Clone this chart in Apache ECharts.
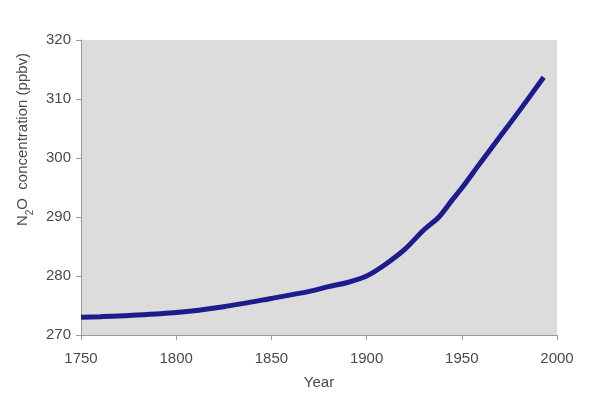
<!DOCTYPE html>
<html>
<head>
<meta charset="utf-8">
<script src="https://cdn.jsdelivr.net/npm/echarts@6/dist/echarts.min.js"></script>
<style>html,body{margin:0;padding:0;background:#fff;}#c{width:600px;height:396px;}</style>
</head>
<body>
<div id="c"></div>
<script>
var years = [1750, 1760, 1775, 1800, 1825, 1850, 1870, 1880, 1890, 1900, 1910, 1920, 1930, 1938, 1945, 1950, 1960, 1970, 1980, 1993];
var n2o   = [273.0, 273.1, 273.3, 273.8, 274.8, 276.2, 277.4, 278.2, 278.9, 280.0, 282.0, 284.5, 287.8, 290.0, 292.9, 294.9, 299.3, 303.6, 307.9, 313.7];
var xTicks = [1750, 1800, 1850, 1900, 1950, 2000];
var yTicks = [270, 280, 290, 300, 310, 320];

var chart = echarts.init(document.getElementById('c'));
var font = 'Liberation Sans, Arial, sans-serif';
var labelStyle = {color: '#4a4a4a', fontFamily: font, fontSize: 15};
chart.setOption({
  animation: false,
  backgroundColor: '#ffffff',
  grid: {left: 81, right: 43, top: 40, bottom: 61, show: true, backgroundColor: '#dcdcdc', borderWidth: 0},
  xAxis: {
    type: 'value', min: xTicks[0], max: xTicks[xTicks.length - 1], interval: 50,
    name: 'Year', nameLocation: 'middle', nameGap: 40,
    nameTextStyle: labelStyle,
    axisLine: {show: true, lineStyle: {color: '#9a9a9a', width: 1}},
    axisTick: {show: true, length: 5, lineStyle: {color: '#9a9a9a'}},
    axisLabel: Object.assign({margin: 16, formatter: function (v) { return String(v); }}, labelStyle),
    splitLine: {show: false}
  },
  yAxis: {
    type: 'value', min: yTicks[0], max: yTicks[yTicks.length - 1], interval: 10,
    name: '{a|N}{s|2}{a|O  concentration (ppbv)}', nameLocation: 'middle', nameGap: 50, nameRotate: 90,
    nameTextStyle: {
      padding: [0, 0, 0, 96],
      rich: {
        a: {color: '#4a4a4a', fontFamily: font, fontSize: 15, lineHeight: 18, verticalAlign: 'bottom'},
        s: {color: '#4a4a4a', fontFamily: font, fontSize: 10, lineHeight: 18, verticalAlign: 'bottom', padding: [0, 0, -5, 0]}
      }
    },
    axisLine: {show: true, lineStyle: {color: '#9a9a9a', width: 1}},
    axisTick: {show: true, length: 5, lineStyle: {color: '#9a9a9a'}},
    axisLabel: Object.assign({margin: 10}, labelStyle),
    splitLine: {show: false}
  },
  series: [{
    type: 'line',
    data: years.map(function (y, i) { return [y, n2o[i]]; }),
    smooth: 0.3,
    showSymbol: false,
    lineStyle: {color: '#1c1c8e', width: 5, cap: 'butt'}
  }]
});
</script>
</body>
</html>
